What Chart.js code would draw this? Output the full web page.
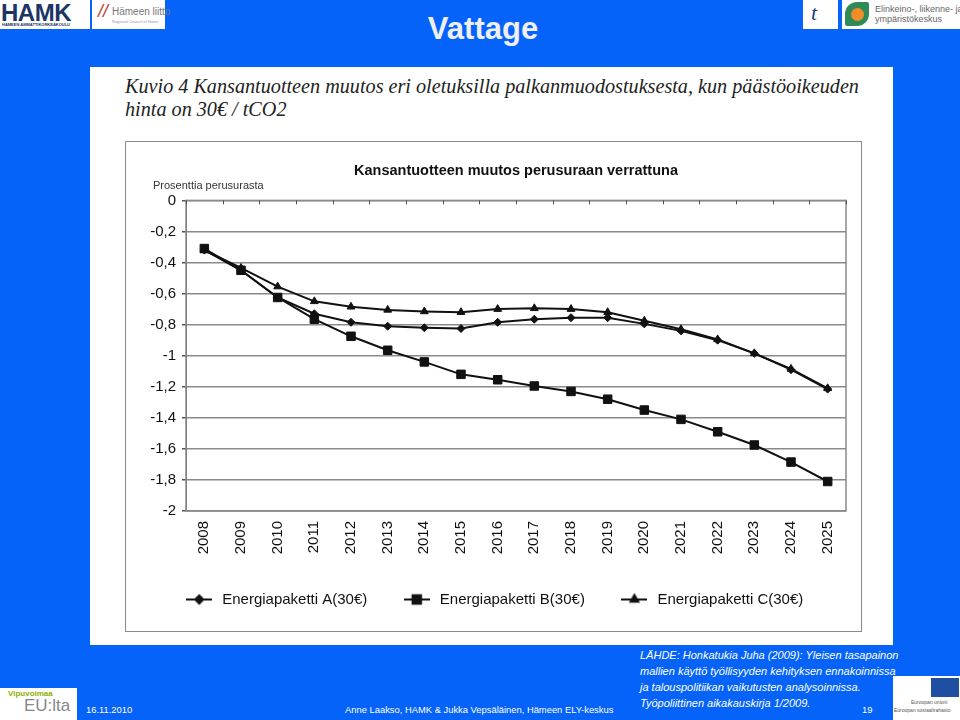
<!DOCTYPE html>
<html>
<head>
<meta charset="utf-8">
<script src="https://cdn.jsdelivr.net/npm/chart.js@4.4.1/dist/chart.umd.min.js"></script>
<style>
  html, body { margin: 0; padding: 0; }
  body { width: 960px; height: 720px; background: #0563fa; position: relative; overflow: hidden; font-family: "Liberation Sans", Arial, sans-serif; }
  .abs { position: absolute; white-space: nowrap; }
  .logo { position: absolute; background: #fff; }
  #sheet { position: absolute; left: 90px; top: 67px; width: 803px; height: 578px; background: #fff; }
  #frame { position: absolute; left: 125px; top: 141px; width: 735px; height: 489px; border: 1px solid #8a8a8a; background: #fff; }
  #frame canvas { position: absolute; left: 0; top: 0; }
  .caption { font-family: "Liberation Serif", "Times New Roman", serif; font-style: italic; font-size: 20.2px; color: #222; }
  .source { font-style: italic; font-size: 11px; color: #fff; line-height: 16px; }
  .foot { font-size: 9.4px; color: #fff; }
</style>
</head>
<body>

<!-- logos -->
<div class="logo" style="left:0;top:0;width:90px;height:29px;">
  <div class="abs" style="left:1px;top:-1px;font-size:24px;font-weight:bold;color:#1b3566;letter-spacing:-0.5px;">HAMK</div>
  <div class="abs" style="left:2px;top:22px;font-size:4px;font-weight:bold;color:#1b3566;">HÄMEEN AMMATTIKORKEAKOULU</div>
</div>
<div class="logo" style="left:92px;top:0;width:73px;height:29px;">
  <div class="abs" style="left:6px;top:1px;font-size:18px;color:#c0392b;font-style:italic;">//</div>
  <div class="abs" style="left:20px;top:6px;font-size:10px;color:#777;">Hämeen liitto</div>
  <div class="abs" style="left:20px;top:19px;font-size:4px;color:#999;">Regional Council of Häme</div>
</div>
<div class="logo" style="left:803px;top:0;width:35px;height:29px;">
  <div class="abs" style="left:8px;top:0;font-size:22px;color:#1b3a8c;font-style:italic;font-family:'Liberation Serif',serif;">t</div>
</div>
<div class="logo" style="left:842px;top:0;width:118px;height:29px;">
  <div class="abs" style="left:3px;top:2px;width:24px;height:24px;border-radius:12px 2px 12px 2px;background:#2e8b57;"></div>
  <div class="abs" style="left:9px;top:8px;width:13px;height:13px;border-radius:7px;background:#f28c28;"></div>
  <div class="abs" style="left:33px;top:4px;font-size:9px;color:#666;line-height:10px;">Elinkeino-, liikenne- ja<br>ympäristökeskus</div>
</div>

<div class="abs" style="left:0;width:966px;top:11px;text-align:center;font-size:31px;font-weight:bold;color:#eef0f6;">Vattage</div>

<div id="sheet"></div>
<div class="abs caption" style="left:125px;top:75px;">Kuvio 4 Kansantuotteen muutos eri oletuksilla palkanmuodostuksesta, kun päästöoikeuden</div>
<div class="abs caption" style="left:125px;top:98px;">hinta on 30€ / tCO2</div>

<div id="frame">
  <canvas id="chartGdp" width="735" height="489"></canvas>
  <div class="abs" style="left:27px;top:37px;font-size:11px;color:#333;">Prosenttia perusurasta</div>
</div>

<div class="abs source" style="left:640px;top:647px;">LÄHDE: Honkatukia Juha (2009): Yleisen tasapainon<br>mallien käyttö työllisyyden kehityksen ennakoinnissa<br>ja talouspolitiikan vaikutusten analysoinnissa.<br>Työpoliittinen aikakauskirja 1/2009.</div>

<div class="logo" style="left:0;top:688px;width:77px;height:32px;">
  <div class="abs" style="left:8px;top:1px;font-size:8px;font-weight:bold;color:#8db000;">Vipuvoimaa</div>
  <div class="abs" style="left:24px;top:8px;font-size:17px;color:#888;">EU:lta</div>
</div>
<div class="abs foot" style="left:86px;top:704px;">16.11.2010</div>
<div class="abs foot" style="left:345px;top:704px;">Anne Laakso, HAMK &amp; Jukka Vepsäläinen, Hämeen ELY-keskus</div>
<div class="abs foot" style="left:862px;top:704px;">19</div>
<div class="logo" style="left:893px;top:676px;width:67px;height:44px;">
  <div class="abs" style="left:38px;top:2px;width:28px;height:19px;background:#1f4fa3;"></div>
  <div class="abs" style="left:18px;top:23px;font-size:5px;color:#555;">Euroopan unioni</div>
  <div class="abs" style="left:1px;top:31px;font-size:5px;color:#555;">Euroopan sosiaalirahasto</div>
</div>

<script>
const years = ['2008', '2009', '2010', '2011', '2012', '2013', '2014', '2015', '2016',
               '2017', '2018', '2019', '2020', '2021', '2022', '2023', '2024', '2025'];
const paketA = [-0.32, -0.45, -0.625, -0.73, -0.785, -0.81, -0.82, -0.825, -0.785,
                -0.765, -0.755, -0.755, -0.795, -0.84, -0.90, -0.985, -1.09, -1.215];
const paketB = [-0.31, -0.45, -0.625, -0.765, -0.875, -0.965, -1.04, -1.12, -1.155,
                -1.195, -1.23, -1.28, -1.35, -1.41, -1.49, -1.575, -1.685, -1.81];
const paketC = [-0.32, -0.435, -0.555, -0.65, -0.685, -0.705, -0.715, -0.72, -0.70,
                -0.695, -0.70, -0.72, -0.775, -0.83, -0.895, -0.985, -1.085, -1.21];
const seriesNames = ['Energiapaketti A(30€)', 'Energiapaketti B(30€)', 'Energiapaketti C(30€)'];

const FONT = '"Liberation Sans", Arial, sans-serif';
const INK = '#111';

// legend marker: short line with the point style in the middle
function legendMarker(style, r) {
    const c = document.createElement('canvas');
    c.width = 26; c.height = 14;
    const ctx = c.getContext('2d');
    ctx.strokeStyle = INK; ctx.lineWidth = 2;
    ctx.beginPath(); ctx.moveTo(0, 7); ctx.lineTo(26, 7); ctx.stroke();
    ctx.fillStyle = INK;
    Chart.helpers.drawPoint(ctx, { pointStyle: style, radius: r, borderWidth: 1 }, 13, 7);
    ctx.fill();
    return c;
}

const plotFrame = {
    id: 'plotFrame',
    beforeDatasetsDraw(chart) {
        const { ctx, chartArea: a, scales: { x } } = chart;
        ctx.save();
        ctx.strokeStyle = '#8a8a8a';
        ctx.lineWidth = 1.5;
        ctx.strokeRect(a.left, a.top, a.right - a.left, a.bottom - a.top);
        // tick marks hanging from the 0 line, between categories
        ctx.strokeStyle = '#555';
        ctx.lineWidth = 1;
        const step = x.getPixelForValue(1) - x.getPixelForValue(0);
        for (let i = 0; i <= years.length; i++) {
            const px = Math.round(x.getPixelForValue(i) - step / 2) + 0.5;
            ctx.beginPath(); ctx.moveTo(px, a.top); ctx.lineTo(px, a.top + 4); ctx.stroke();
        }
        ctx.restore();
    }
};

function makeSet(label, data, style, r) {
    return {
        label, data,
        borderColor: INK, backgroundColor: INK,
        borderWidth: 2,
        pointStyle: style, pointRadius: r, pointBorderWidth: 1,
        pointBackgroundColor: INK, pointBorderColor: INK,
        tension: 0,
        legendMarker: legendMarker(style, r)
    };
}

new Chart(document.getElementById('chartGdp'), {
    type: 'line',
    data: {
        labels: years,
        datasets: [
            makeSet(seriesNames[0], paketA, 'rectRot', 4),
            makeSet(seriesNames[1], paketB, 'rect', 6),
            makeSet(seriesNames[2], paketC, 'triangle', 4.5)
        ]
    },
    options: {
        responsive: false,
        animation: false,
        devicePixelRatio: 1,
        layout: { padding: { left: 15, right: 15, top: 0, bottom: 14 } },
        scales: {
            x: {
                type: 'category',
                offset: true,
                grid: { display: false },
                border: { display: false },
                afterFit: (s) => { s.height = 47; },
                ticks: {
                    minRotation: 90, maxRotation: 90, autoSkip: false, padding: 2,
                    color: INK, font: { family: FONT, size: 15 }
                }
            },
            y: {
                min: -2, max: 0,
                afterFit: (s) => { s.width = 45; },
                grid: { color: '#8a8a8a', lineWidth: 1.5, tickLength: 4, tickColor: '#555' },
                border: { display: true, color: '#555', width: 1 },
                ticks: {
                    stepSize: 0.2, padding: 6, color: INK,
                    font: { family: FONT, size: 15 },
                    callback: (v) => Number(v.toFixed(1)).toString().replace('.', ',')
                }
            }
        },
        plugins: {
            title: {
                display: true,
                fullSize: false,
                text: 'Kansantuotteen muutos perusuraan verrattuna',
                color: INK,
                font: { family: FONT, size: 14.5, weight: 'bold' },
                padding: { top: 20, bottom: 21 }
            },
            legend: {
                position: 'bottom',
                labels: {
                    usePointStyle: true,
                    pointStyleWidth: 31,
                    padding: 34,
                    color: INK,
                    font: { family: FONT, size: 15 },
                    generateLabels: (chart) => chart.data.datasets.map((d, i) => ({
                        text: d.label,
                        pointStyle: d.legendMarker,
                        fillStyle: INK, strokeStyle: INK, lineWidth: 0,
                        fontColor: INK,
                        datasetIndex: i
                    }))
                }
            },
            tooltip: { enabled: false }
        }
    },
    plugins: [plotFrame]
});
</script>
</body>
</html>
